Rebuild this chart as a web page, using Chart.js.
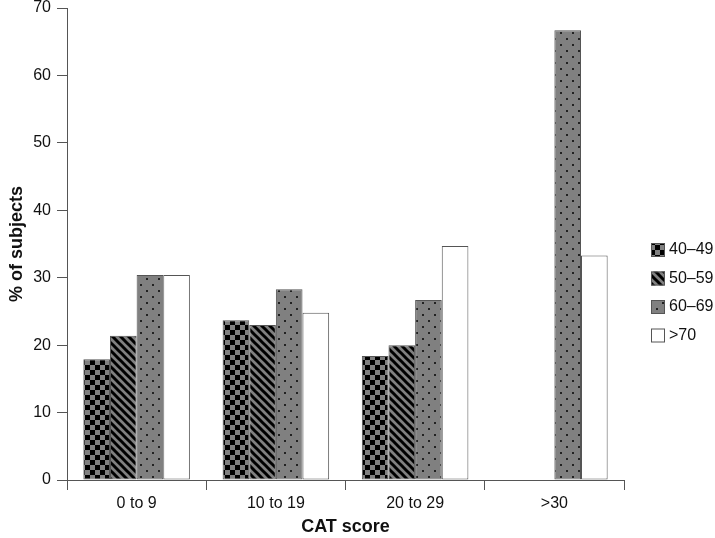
<!DOCTYPE html>
<html lang="en">
<head>
    <meta charset="UTF-8">
    <title>CAT score by age group</title>
    <script src="https://cdn.jsdelivr.net/npm/chart.js"></script>
    <style>
        body { margin: 0; background: #fff; }
        #wrap { width: 715px; height: 538px; }
    </style>
</head>
<body>
    <div id="wrap"><canvas id="myChart" width="715" height="538"></canvas></div>
    <script>
        const categories = ['0 to 9', '10 to 19', '20 to 29', '>30'];
        const ageGroups = ['40\u201349', '50\u201359', '60\u201369', '>70'];
        const age40 = [17.9, 23.7, 18.4, 0];
        const age50 = [21.4, 23.0, 20.0, 0];
        const age60 = [30.4, 28.3, 26.7, 66.7];
        const age70 = [30.4, 24.8, 34.7, 33.3];
        const yTicks = [0, 10, 20, 30, 40, 50, 60, 70];

        const GREY = '#808080';
        const EDGE = '#555555';
        const FONT = '"Liberation Sans", Arial, sans-serif';

        function makeTile(w, h, draw) {
            const c = document.createElement('canvas');
            c.width = w; c.height = h;
            const g = c.getContext('2d');
            draw(g);
            return document.createElement('canvas').getContext('2d').createPattern(c, 'repeat');
        }

        // checkerboard
        const checker = makeTile(10, 10, g => {
            g.fillStyle = GREY; g.fillRect(0, 0, 10, 10);
            g.fillStyle = '#000'; g.fillRect(0, 0, 5, 5); g.fillRect(5, 5, 5, 5);
        });
        // diagonal stripes
        const stripes = makeTile(8, 8, g => {
            g.fillStyle = GREY; g.fillRect(0, 0, 8, 8);
            g.strokeStyle = '#000'; g.lineWidth = 3;
            for (let o = -8; o <= 8; o += 8) {
                g.beginPath(); g.moveTo(o - 2, -2); g.lineTo(o + 10, 10); g.stroke();
            }
        });
        // dotted grey
        const dots = makeTile(12, 12, g => {
            g.fillStyle = GREY; g.fillRect(0, 0, 12, 12);
            g.fillStyle = '#222'; g.fillRect(2, 2, 2, 2); g.fillRect(8, 8, 2, 2);
        });

        const fills = [checker, stripes, dots, '#ffffff'];
        const series = [age40, age50, age60, age70];

        // legend on the right, drawn by hand
        const sideLegend = {
            id: 'sideLegend',
            afterDraw(chart) {
                const ctx = chart.ctx;
                ctx.save();
                ctx.font = '16px ' + FONT;
                ctx.textBaseline = 'middle';
                chart.data.datasets.forEach((ds, i) => {
                    const y = 250 + i * 28.5;
                    ctx.fillStyle = ds.backgroundColor;
                    ctx.fillRect(651, y - 7, 14, 14);
                    ctx.strokeStyle = EDGE; ctx.lineWidth = 1;
                    ctx.strokeRect(651.5, y - 6.5, 13, 13);
                    ctx.fillStyle = '#111';
                    ctx.fillText(ds.label, 669, y);
                });
                ctx.restore();
            }
        };

        new Chart(document.getElementById('myChart'), {
            type: 'bar',
            data: {
                labels: categories,
                datasets: ageGroups.map((name, i) => ({
                    label: name,
                    data: series[i],
                    backgroundColor: fills[i],
                    borderColor: EDGE,
                    borderWidth: 1,
                    borderSkipped: false,
                    categoryPercentage: 0.765,
                    barPercentage: 1
                }))
            },
            options: {
                responsive: false,
                animation: false,
                layout: { padding: { top: 8, right: 91, left: 0, bottom: 0 } },
                plugins: { legend: { display: false }, tooltip: { enabled: false } },
                scales: {
                    x: {
                        afterFit: s => { s.height = 58; },
                        border: { color: EDGE, width: 1 },
                        grid: { drawOnChartArea: false, drawTicks: true, tickLength: 10, color: EDGE, offset: true },
                        ticks: { color: '#111', font: { family: FONT, size: 16 }, padding: 4, maxRotation: 0 },
                        title: { display: true, text: 'CAT score', color: '#111', font: { family: FONT, size: 18, weight: 'bold' }, padding: { top: 0, bottom: 0 } }
                    },
                    y: {
                        min: 0, max: 70,
                        afterFit: s => { s.width = 67; s.paddingTop = 0; s.paddingBottom = 0; },
                        afterBuildTicks: s => { s.ticks = yTicks.map(v => ({ value: v })); },
                        border: { color: EDGE, width: 1 },
                        grid: { drawOnChartArea: false, drawTicks: true, tickLength: 10, color: EDGE },
                        ticks: { color: '#111', font: { family: FONT, size: 16 }, padding: 6 },
                        title: { display: true, text: '% of subjects', color: '#111', font: { family: FONT, size: 18, weight: 'bold' }, padding: { top: 6, bottom: 0 } }
                    }
                }
            },
            plugins: [sideLegend]
        });
    </script>
</body>
</html>
